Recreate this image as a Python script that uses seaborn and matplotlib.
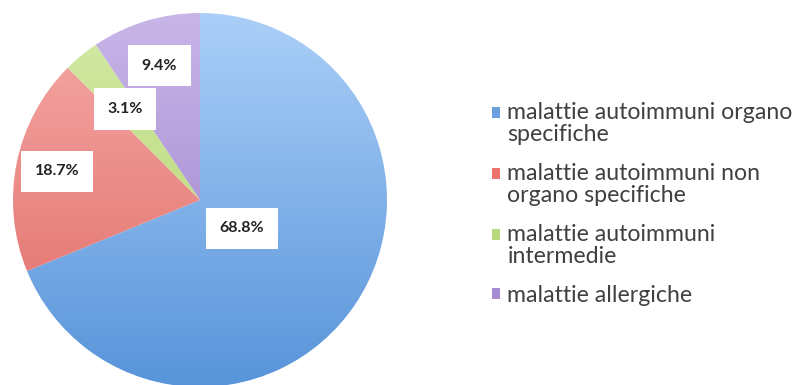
import numpy as np
import matplotlib
matplotlib.use("Agg")
import matplotlib.pyplot as plt
import seaborn as sns
from matplotlib.colors import LinearSegmentedColormap
from matplotlib.patches import Patch, Rectangle
from matplotlib.legend_handler import HandlerPatch

categories = ["malattie autoimmuni organo\nspecifiche",
              "malattie autoimmuni non\norgano specifiche",
              "malattie autoimmuni\nintermedie",
              "malattie allergiche"]
values = [68.8, 18.7, 3.1, 9.4]

# style
top_colors = ["#abcff8", "#f5aaa7", "#d3eaa6", "#c9b6e8"]
bottom_colors = ["#5894da", "#e06863", "#b0d268", "#987bc9"]
legend_colors = ["#6a9fe0", "#e8736f", "#b9d97c", "#a58bd2"]
label_dist = [0.27, 0.78, 0.63, 0.75]

sns.set_theme(style="white")
plt.rcParams['font.family'] = ['Lato', 'DejaVu Sans']

fig = plt.figure(figsize=(7.95, 3.85), dpi=100)
W, H = 795, 385
cx, cy, R = 200, 200, 187
ax = fig.add_axes([(cx - R) / W, (H - cy - R) / H, 2 * R / W, 2 * R / H])

wedges, texts = ax.pie(values, startangle=90, counterclock=False, radius=1,
                       colors=["none"] * 4, wedgeprops=dict(linewidth=0))
grad = np.linspace(0, 1, 256).reshape(-1, 1)
for w, c1, c2 in zip(wedges, top_colors, bottom_colors):
    cmap = LinearSegmentedColormap.from_list("g", [c2, c1])
    im = ax.imshow(grad, extent=(-1, 1, -1, 1), origin="lower", cmap=cmap,
                   aspect="auto", zorder=1)
    im.set_clip_path(w)

for w, v, d in zip(wedges, values, label_dist):
    mid = np.deg2rad((w.theta1 + w.theta2) / 2)
    ax.text(d * np.cos(mid), d * np.sin(mid), f"{v:.1f}%", ha="center", va="center",
            fontsize=11.5, fontweight="bold", color="#222222", zorder=5,
            bbox=dict(boxstyle="square,pad=0.85", facecolor="white", edgecolor="none"))

ax.set_xlim(-1, 1)
ax.set_ylim(-1, 1)
ax.set_aspect("auto")
ax.axis("off")

LINE_PT = 22 * 72 / 100  # one text line in points


def make_handler(nlines):
    def patch_func(legend, orig_handle, xdescent, ydescent, width, height, fontsize):
        off = (nlines - 1) * LINE_PT / 2
        return Rectangle((-xdescent, -ydescent + off), width, height)
    return HandlerPatch(patch_func=patch_func)


handles = [Patch(facecolor=c, edgecolor="none") for c in legend_colors]
hmap = {h: make_handler(lab.count("\n") + 1) for h, lab in zip(handles, categories)}
leg = fig.legend(handles, categories, loc="upper left", handler_map=hmap,
                 bbox_to_anchor=(492 / W, 1 - 102 / H), frameon=False,
                 fontsize=16.7, handlelength=0.36, handleheight=0.36,
                 handletextpad=0.3, labelspacing=0.78, borderaxespad=0,
                 borderpad=0)
for t in leg.get_texts():
    t.set_color("#404040")
    t.set_linespacing(1.05)

fig.savefig("out.png", dpi=100)
